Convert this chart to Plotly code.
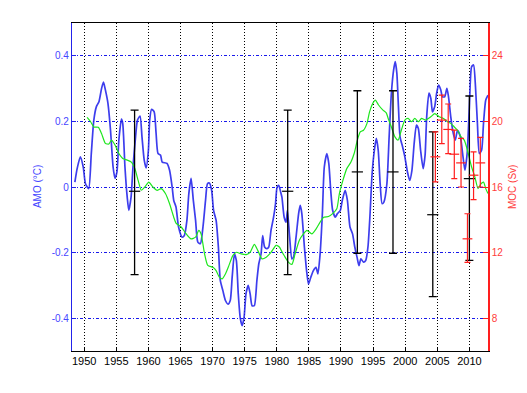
import plotly.graph_objects as go

# AMO index (blue), degC
amo_year = [1948.55,1948.9,1949.4,1949.85,1950.2,1950.7,1951.1,1951.5,1951.9,1952.3,1952.7,1953.0,1953.3,1953.7,
            1954.1,1954.5,1954.8,1955.1,1955.4,1955.8,1956.0,1956.35,1956.7,1956.95,1957.3,1957.6,1958.0,1958.3,
            1958.7,1959.0,1959.35,1959.65,1960.0,1960.2,1960.5,1960.9,1961.2,1961.5,1961.9,1962.15,1962.9,1963.3,
            1963.7,1963.95,1964.3,1964.7,1965.25,1965.6,1966.0,1966.3,1966.65,1967.0,1967.35,1967.7,1968.1,1968.5,
            1968.9,1969.2,1969.5,1969.85,1970.15,1970.55,1970.9,1971.2,1971.6,1972.0,1972.4,1972.75,1973.05,1973.4,
            1973.7,1974.0,1974.3,1974.6,1974.9,1975.2,1975.55,1975.85,1976.15,1976.5,1976.9,1977.2,1977.55,1977.8,
            1978.1,1978.45,1978.75,1979.1,1979.5,1979.8,1980.05,1980.3,1980.6,1980.8,1981.15,1981.45,1981.65,1982.0,
            1982.35,1982.6,1983.0,1983.4,1983.65,1983.9,1984.3,1984.7,1984.95,1985.3,1985.7,1986.1,1986.4,1986.75,
            1987.1,1987.4,1987.8,1988.1,1988.4,1988.7,1989.1,1989.45,1989.9,1990.2,1990.65,1991.0,1991.4,1991.8,
            1992.15,1992.5,1992.8,1993.1,1993.5,1993.85,1994.2,1994.5,1994.85,1995.2,1995.5,1995.8,1996.1,1996.4,
            1996.7,1997.15,1997.5,1997.85,1998.2,1998.45,1998.7,1998.95,1999.2,1999.6,1999.95,2000.35,2000.7,2001.05,
            2001.4,2001.75,2002.05,2002.4,2002.8,2003.1,2003.35,2003.7,2004.0,2004.25,2004.6,2004.9,2005.2,2005.55,
            2005.8,2006.15,2006.5,2006.75,2007.1,2007.5,2007.8,2008.15,2008.6,2008.95,2009.3,2009.65,2010.0,2010.35,
            2010.65,2010.95,2011.25,2011.55,2011.9,2012.2,2012.55,2012.9]
amo_value = [0.015,0.056,0.092,0.061,0.010,-0.005,0.10,0.204,0.245,0.26,0.30,0.32,0.296,0.255,
             0.173,0.061,0.026,0.046,0.143,0.207,0.194,0.061,-0.031,-0.071,-0.031,0.061,0.153,0.204,
             0.216,0.153,0.082,0.058,0.112,0.204,0.237,0.229,0.163,0.102,0.097,0.076,0.072,0.051,
             0.0,-0.041,-0.061,-0.122,-0.153,-0.148,-0.102,-0.02,0.026,-0.041,-0.102,-0.168,-0.173,-0.122,
             -0.041,0.010,0.012,-0.010,-0.071,-0.102,-0.183,-0.285,-0.316,-0.346,-0.357,-0.346,-0.275,-0.204,
             -0.224,-0.326,-0.398,-0.423,-0.398,-0.326,-0.30,-0.326,-0.362,-0.362,-0.285,-0.234,-0.204,-0.148,
             -0.183,-0.188,-0.183,-0.132,-0.092,-0.051,0.0,0.005,-0.015,-0.031,-0.092,-0.107,-0.071,-0.153,
             -0.219,-0.214,-0.153,-0.081,-0.056,-0.081,-0.183,-0.265,-0.296,-0.275,-0.255,-0.245,-0.265,-0.204,
             -0.081,0.061,0.102,0.072,-0.010,-0.071,-0.092,-0.081,-0.071,-0.041,-0.010,-0.041,-0.122,-0.143,
             -0.183,-0.214,-0.24,-0.219,-0.229,-0.224,-0.183,-0.092,0.041,0.112,0.148,0.112,0.010,-0.051,
             -0.045,0.010,0.153,0.286,0.357,0.382,0.347,0.245,0.153,0.122,0.092,0.046,0.020,0.051,
             0.133,0.189,0.178,0.112,0.056,0.097,0.214,0.286,0.270,0.229,0.245,0.286,0.311,0.296,
             0.275,0.275,0.301,0.275,0.214,0.163,0.143,0.173,0.153,0.102,0.051,0.102,0.245,0.367,
             0.372,0.306,0.194,0.102,0.112,0.194,0.265,0.28]

# Green smoothed series (AMO units)
green_year = [1950.45,1951.0,1951.5,1952.2,1952.7,1953.3,1953.85,1954.25,1954.8,1955.4,1956.0,1956.7,1957.35,
              1957.9,1958.4,1958.9,1959.45,1960.05,1960.7,1961.35,1962.0,1962.65,1963.3,1963.95,1964.3,1965.1,
              1965.9,1966.65,1967.35,1967.85,1968.2,1968.75,1969.25,1970.05,1970.55,1971.05,1971.5,1972.0,1972.55,
              1973.15,1973.7,1974.45,1975.25,1975.85,1976.5,1977.05,1977.7,1978.35,1979.1,1979.9,1980.4,1980.85,
              1981.15,1981.8,1982.35,1982.85,1983.5,1984.15,1984.7,1985.45,1986.15,1986.75,1987.3,1988.05,1988.7,
              1989.35,1989.75,1990.3,1990.9,1991.55,1992.05,1992.55,1993.0,1993.5,1994.05,1994.45,1994.95,1995.35,
              1995.85,1996.5,1997.05,1997.35,1997.85,1998.4,1998.9,1999.4,1999.95,2000.45,2001.0,2001.5,2002.05,
              2002.55,2003.2,2004.0,2004.6,2005.3,2005.95,2006.6,2007.1,2007.65,2008.15,2008.7,2009.2,2009.7,
              2010.35,2010.85,2011.35,2011.8,2012.2,2012.55,2012.9]
green_value = [0.212,0.199,0.183,0.182,0.163,0.133,0.131,0.143,0.128,0.102,0.087,0.082,0.076,
               0.056,0.020,-0.010,0.0,0.015,0.0,-0.010,-0.005,-0.020,-0.051,-0.092,-0.110,-0.122,
               -0.143,-0.158,-0.153,-0.132,-0.143,-0.204,-0.239,-0.245,-0.255,-0.275,-0.28,-0.265,-0.239,
               -0.209,-0.199,-0.204,-0.206,-0.199,-0.175,-0.194,-0.219,-0.214,-0.199,-0.178,-0.183,-0.199,
               -0.209,-0.229,-0.236,-0.204,-0.163,-0.143,-0.132,-0.143,-0.127,-0.107,-0.092,-0.09,-0.081,
               -0.066,-0.020,0.020,0.056,0.076,0.102,0.143,0.168,0.173,0.194,0.229,0.255,0.265,
               0.25,0.235,0.226,0.209,0.183,0.153,0.143,0.173,0.204,0.209,0.199,0.209,0.199,
               0.209,0.204,0.214,0.224,0.214,0.209,0.199,0.194,0.183,0.173,0.153,0.143,0.112,
               0.061,0.031,-0.005,0.010,0.015,-0.005,-0.020]

# Hydrographic MOC estimates (black), Sv
hydro_year = [1957.85, 1981.7, 1992.55, 1998.1, 2004.3, 2010.0]
hydro_moc = [15.74, 15.74, 16.92, 16.92, 14.31, 16.51]
hydro_hi = [20.69, 20.69, 21.87, 21.87, 19.36, 21.55]
hydro_lo = [10.66, 10.66, 11.96, 11.96, 9.31, 11.52]

# RAPID MOC estimates (red), Sv
rapid_year = [2004.7, 2005.7, 2006.7, 2007.65, 2008.7, 2009.7, 2010.65, 2011.7]
rapid_moc = [17.84, 20.08, 19.51, 18.0, 17.47, 12.84, 16.72, 17.47]
rapid_hi = [19.36, 21.6, 21.06, 19.47, 18.96, 14.37, 18.14, 19.02]
rapid_lo = [16.31, 18.65, 18.04, 16.51, 16.0, 11.41, 15.23, 16.0]

x_ticks = [1950, 1955, 1960, 1965, 1970, 1975, 1980, 1985, 1990, 1995, 2000, 2005, 2010]
amo_ticks = [-0.4, -0.2, 0, 0.2, 0.4]
amo_ticktext = ["-0.4", "-0.2", "0", "0.2", "0.4"]
moc_ticks = [8, 12, 16, 20, 24]

BLUE = "rgb(35,35,235)"
RED = "rgb(255,30,30)"
FONT = "Liberation Sans"

fig = go.Figure()
fig.add_trace(go.Scatter(x=amo_year, y=amo_value, mode="lines", line=dict(color=BLUE, width=1.7, shape="spline", smoothing=0.6),
                         opacity=0.88, showlegend=False))
fig.add_trace(go.Scatter(x=green_year, y=green_value, mode="lines", line=dict(color="rgb(30,230,30)", width=1.2, shape="spline", smoothing=0.6),
                         showlegend=False))
fig.add_trace(go.Scatter(x=hydro_year, y=hydro_moc, yaxis="y2", mode="markers",
                         marker=dict(symbol="line-ew", size=8, line=dict(color="black", width=1.2)),
                         error_y=dict(type="data", symmetric=False,
                                      array=[h - m for h, m in zip(hydro_hi, hydro_moc)],
                                      arrayminus=[m - l for m, l in zip(hydro_moc, hydro_lo)],
                                      color="black", thickness=1.3, width=4),
                         showlegend=False))
fig.add_trace(go.Scatter(x=rapid_year, y=rapid_moc, yaxis="y2", mode="markers",
                         marker=dict(symbol="line-ew", size=7, line=dict(color=RED, width=1.2)),
                         error_y=dict(type="data", symmetric=False,
                                      array=[h - m for h, m in zip(rapid_hi, rapid_moc)],
                                      arrayminus=[m - l for m, l in zip(rapid_moc, rapid_lo)],
                                      color=RED, thickness=1.2, width=3),
                         showlegend=False))

# page body has an 8px default margin; figure sized so the plot area lands at x 72-488, y 23-351
fig.update_layout(
    width=511, height=377,
    margin=dict(l=64, r=31, t=15, b=34, autoexpand=False),
    paper_bgcolor="white", plot_bgcolor="white",
    font=dict(family=FONT, size=10, color="black"),
    xaxis=dict(range=[1948.1, 2012.9], tickvals=x_ticks, ticks="inside", ticklen=4, tickcolor="black",
               showline=True, linecolor="black", linewidth=1, mirror=True, automargin=False,
               showgrid=True, gridcolor="black", griddash="1px,2px", gridwidth=1.2,
               zeroline=False, tickfont=dict(family=FONT, size=11, color="black")),
    yaxis=dict(range=[-0.5, 0.5], tickvals=amo_ticks, ticktext=amo_ticktext, ticks="inside", ticklen=4,
               tickcolor=BLUE, showline=True, linecolor=BLUE, linewidth=1.2, automargin=False,
               showgrid=True, gridcolor="rgb(25,25,235)", griddash="3px,2px,1px,2px", gridwidth=1.3,
               zeroline=False, tickfont=dict(family=FONT, size=10, color="rgb(70,70,255)")),
    yaxis2=dict(range=[6, 26], overlaying="y", side="right", tickvals=moc_ticks, ticks="inside", ticklen=5,
                tickcolor=RED, showline=True, linecolor=RED, linewidth=1.5, showgrid=False, zeroline=False,
                automargin=False, tickfont=dict(family=FONT, size=10, color="rgb(255,60,60)")),
    annotations=[
        dict(text="AMO (°C)", xref="paper", yref="paper", x=-0.084, y=0.5, textangle=-90, showarrow=False,
             font=dict(family=FONT, size=10, color="rgb(70,70,255)"), xanchor="center", yanchor="middle"),
        dict(text="MOC (Sv)", xref="paper", yref="paper", x=1.0577, y=0.5, textangle=-90, showarrow=False,
             font=dict(family=FONT, size=10, color="rgb(255,60,60)"), xanchor="center", yanchor="middle"),
    ],
)

fig.write_html("out.html")
